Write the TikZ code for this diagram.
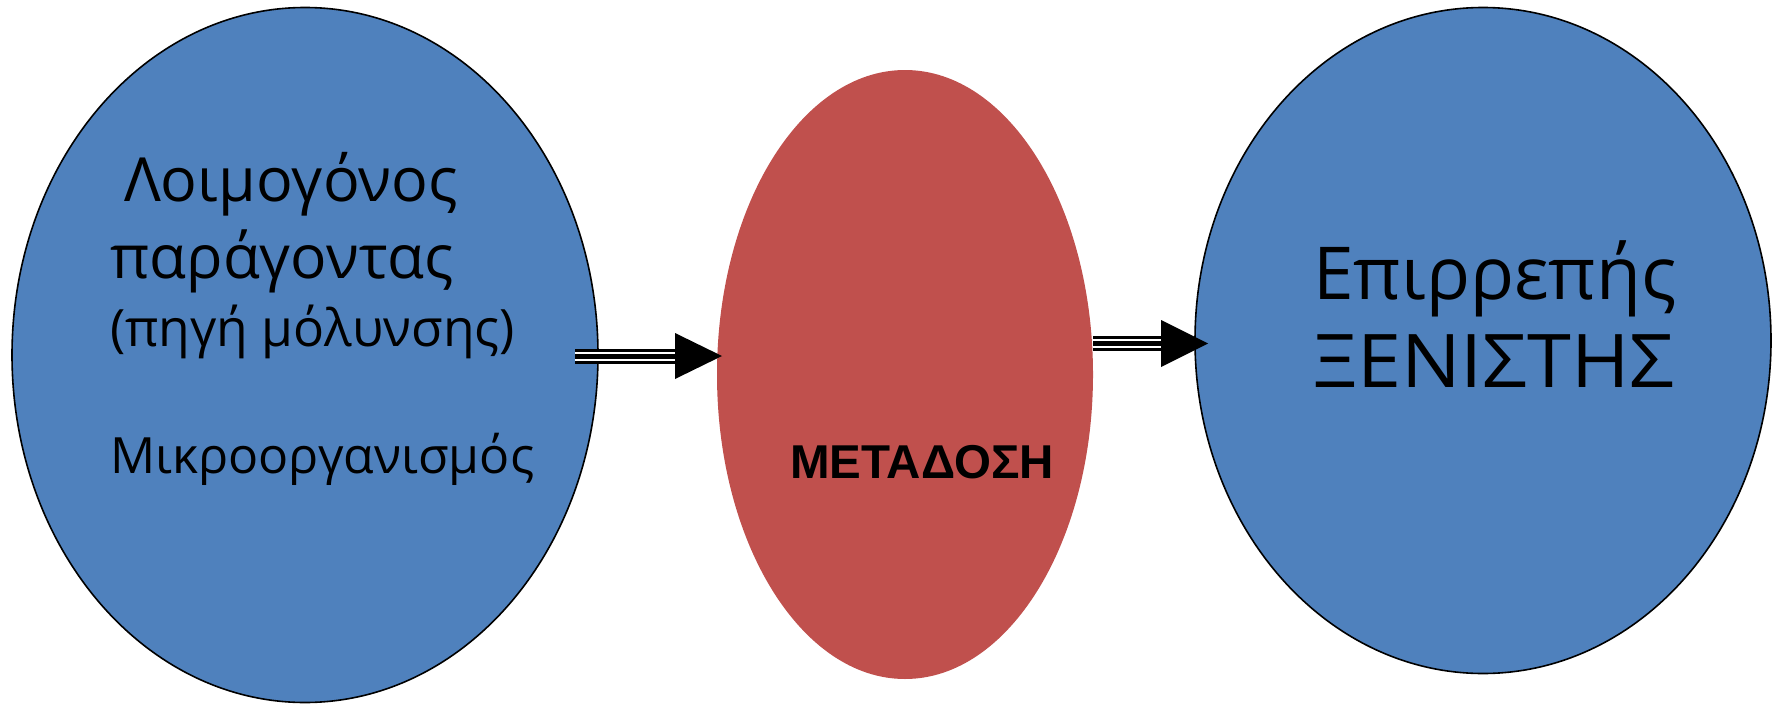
\documentclass[tikz,border=0pt]{standalone}
\usepackage{fontspec}
\usetikzlibrary{shapes.geometric}
\newfontfamily\bodyfont{Open Sans}
\newfontfamily\capsfont{Liberation Sans}
\definecolor{hostblue}{RGB}{79,129,189}
\definecolor{linkred}{RGB}{192,80,77}
\tikzset{
  hostblob/.style={ellipse, fill=hostblue, draw=black, line width=1.6pt, inner sep=0pt},
  linkblob/.style={ellipse, fill=linkred, draw=none, inner sep=0pt},
  lbl/.style={anchor=base west, inner sep=0pt, text=black},
  tripleouter/.style={draw=black, line width=3pt, double=white, double distance=9pt, line cap=butt},
  triplecore/.style={draw=black, line width=5pt, line cap=butt},
  headtri/.style={fill=black, draw=none}
}
\begin{document}
\begin{tikzpicture}[x=1pt, y=-1pt]
\useasboundingbox (0,0) rectangle (1777,704);

% the three regions
\node[hostblob, minimum width=586pt, minimum height=695pt] (agent) at (305,355) {};
\node[linkblob, minimum width=376pt, minimum height=609pt] (trans) at (905,374.5) {};
\node[hostblob, minimum width=576pt, minimum height=666pt] (host) at (1483,340.5) {};

% labels
\node[lbl, font=\bodyfont\fontsize{61}{61}\selectfont] (t1) at (124,201) {Λοιμογόνος};
\node[lbl, font=\bodyfont\fontsize{60.5}{60.5}\selectfont] (t2) at (110,278) {παράγοντας};
\node[lbl, font=\bodyfont\fontsize{51.5}{51.5}\selectfont] (t3) at (110,346) {(πηγή μόλυνσης)};
\node[lbl, font=\bodyfont\fontsize{50}{50}\selectfont] (t4) at (110,473) {Μικροοργανισμός};
\node[lbl, font=\capsfont\bfseries\fontsize{47.5}{47.5}\selectfont] (t5) at (790,478) {ΜΕΤΑΔΟΣΗ};
\node[lbl, font=\bodyfont\fontsize{73}{73}\selectfont] (t6) at (1313,299) {Επιρρεπής};
\node[lbl, font=\bodyfont\fontsize{74}{74}\selectfont] (t7) at (1313,387) {\scalebox{1.07}[1]{ΞΕΝΙΣΤΗΣ}};

% arrow from agent to transmission
\coordinate (a1s) at (575,356);
\coordinate (a1b) at (675,356);
\coordinate (a1t) at (722,356);
\draw[tripleouter] (a1s) -- (a1b);
\draw[triplecore] (a1s) -- (a1b);
\fill[headtri] ([yshift=-23pt]a1b) -- (a1t) -- ([yshift=23pt]a1b) -- cycle;

% arrow from transmission to host
\coordinate (a2s) at (1093,343.5);
\coordinate (a2b) at (1161,343.5);
\coordinate (a2t) at (1208,343.5);
\draw[tripleouter] (a2s) -- (a2b);
\draw[triplecore] (a2s) -- (a2b);
\fill[headtri] ([yshift=-23.5pt]a2b) -- (a2t) -- ([yshift=23.5pt]a2b) -- cycle;
\end{tikzpicture}
\end{document}
